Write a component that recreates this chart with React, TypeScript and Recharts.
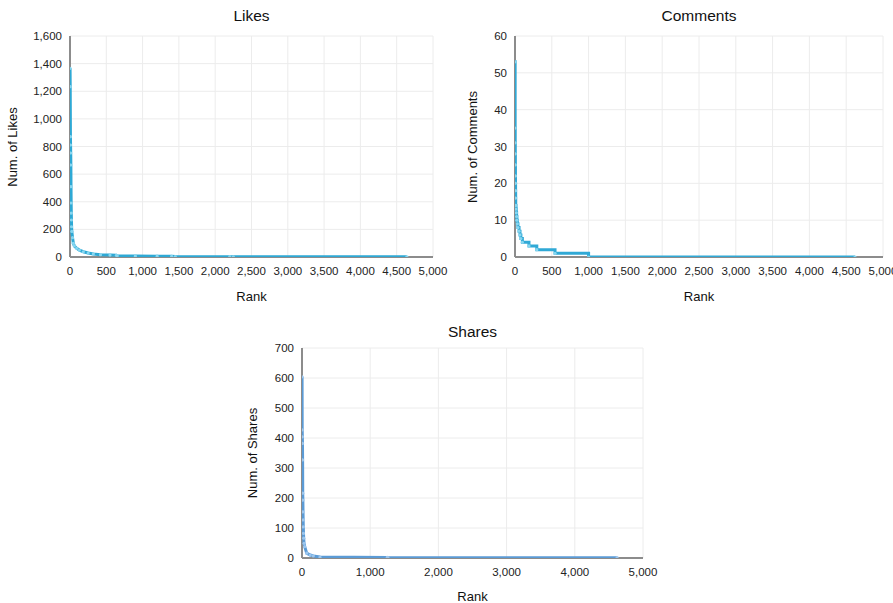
import React from "react";
import { LineChart, Line, XAxis, YAxis, CartesianGrid } from "recharts";

// ---- Data (rank -> count) ----
const likesRank = [1, 3, 6, 8, 10, 12, 14, 16, 18, 20, 22, 25, 35, 46, 60, 92, 130, 184, 250, 322, 420, 551, 640, 650, 900, 1200, 1400, 1450, 2200, 2250, 4640];
const likesValue = [1366, 1233, 871, 811, 753, 666, 509, 391, 318, 268, 219, 185, 140, 99, 80, 63, 50, 38, 29, 22, 17, 14, 12, 9, 8, 6, 5, 3, 2, 1, 1];

const commentsRank = [1, 2, 3, 4, 5, 6, 7, 8, 9, 10, 14, 18, 22, 26, 32, 40, 55, 68, 80, 100, 190, 296, 544, 1000, 4620];
const commentsValue = [53, 35, 31, 28, 25, 22, 20, 18, 16, 14, 13, 12, 11, 10, 9, 8, 7, 6, 5, 4, 3, 2, 1, 0, 0];

const sharesRank = [1, 3, 5, 7, 9, 11, 13, 15, 17, 19, 22, 25, 30, 40, 69, 120, 166, 264, 1250, 1260, 4620];
const sharesValue = [604, 427, 404, 382, 327, 216, 193, 154, 127, 104, 82, 66, 49, 38, 16, 10, 7, 3, 2, 1, 1];

const rankTicksFine = [0, 500, 1000, 1500, 2000, 2500, 3000, 3500, 4000, 4500, 5000];
const rankTicksCoarse = [0, 1000, 2000, 3000, 4000, 5000];
const likesTicks = [0, 200, 400, 600, 800, 1000, 1200, 1400, 1600];
const commentsTicks = [0, 10, 20, 30, 40, 50, 60];
const sharesTicks = [0, 100, 200, 300, 400, 500, 600, 700];

const FONT = "'Liberation Sans', Arial, Helvetica, sans-serif";
const fmt = (v: number) => v.toLocaleString("en-US");

type PanelProps = {
  title: string;
  yTitle: string;
  ranks: number[];
  values: number[];
  xTicks: number[];
  yTicks: number[];
  color: string;
  dotColor: string;
  step?: boolean;
  box: { left: number; top: number; w: number; h: number };
  plot: { left: number; top: number; right: number; bottom: number };
  titleY: number;
  yTitleX: number;
  xTitleY: number;
};

const Y_AXIS_W = 50;
const X_AXIS_H = 30;

function Panel(p: PanelProps) {
  const data = p.ranks.map((r, i) => ({ rank: r, value: p.values[i] }));
  const margin = {
    left: p.plot.left - p.box.left - Y_AXIS_W,
    top: p.plot.top - p.box.top,
    right: p.box.left + p.box.w - p.plot.right,
    bottom: p.box.top + p.box.h - p.plot.bottom - X_AXIS_H,
  };
  const cx = (p.plot.left + p.plot.right) / 2;
  const cy = (p.plot.top + p.plot.bottom) / 2;
  const yMax = p.yTicks[p.yTicks.length - 1];
  const xMax = p.xTicks[p.xTicks.length - 1];
  const tickStyle = { fontSize: 11.5, fill: "#222", fontFamily: FONT };
  return (
    <>
      <div
        style={{
          position: "absolute",
          left: p.box.left,
          top: p.box.top,
          width: p.box.w,
          height: p.box.h,
        }}
      >
        <LineChart width={p.box.w} height={p.box.h} data={data} margin={margin}>
          <CartesianGrid stroke="#ececec" strokeWidth={1} horizontalValues={p.yTicks} verticalValues={p.xTicks} />
          <CartesianGrid stroke="#8c8c8c" strokeWidth={2} horizontalValues={[0]} verticalValues={[0]} />
          <XAxis
            type="number"
            dataKey="rank"
            domain={[0, xMax]}
            ticks={p.xTicks}
            interval={0}
            tickFormatter={fmt}
            tick={tickStyle}
            tickLine={false}
            tickMargin={4}
            height={X_AXIS_H}
            axisLine={false}
            allowDataOverflow
          />
          <YAxis
            type="number"
            dataKey="value"
            domain={[0, yMax]}
            ticks={p.yTicks}
            interval={0}
            tickFormatter={fmt}
            tick={tickStyle}
            tickLine={false}
            width={Y_AXIS_W}
            axisLine={false}
            allowDataOverflow
          />
          <Line
            type={p.step ? "stepAfter" : "linear"}
            dataKey="value"
            stroke={p.color}
            strokeWidth={3}
            dot={{ r: 1.6, fill: p.dotColor, stroke: "none" }}
            isAnimationActive={false}
          />
        </LineChart>
      </div>
      <div
        style={{
          position: "absolute",
          left: cx - 150,
          width: 300,
          top: p.titleY - 10,
          height: 20,
          lineHeight: "20px",
          textAlign: "center",
          fontFamily: FONT,
          fontSize: 15.5,
          color: "#111",
        }}
      >
        {p.title}
      </div>
      <div
        style={{
          position: "absolute",
          left: cx - 100,
          width: 200,
          top: p.xTitleY - 9,
          height: 18,
          lineHeight: "18px",
          textAlign: "center",
          fontFamily: FONT,
          fontSize: 13,
          color: "#111",
        }}
      >
        Rank
      </div>
      <div
        style={{
          position: "absolute",
          left: p.yTitleX - 100,
          width: 200,
          top: cy - 9,
          height: 18,
          lineHeight: "18px",
          textAlign: "center",
          fontFamily: FONT,
          fontSize: 13,
          color: "#111",
          transform: "rotate(-90deg)",
        }}
      >
        {p.yTitle}
      </div>
    </>
  );
}

export default function App() {
  return (
    <div style={{ position: "absolute", left: 0, top: 0, width: 893, height: 603, background: "#fff", overflow: "hidden" }}>
      <Panel
        title="Likes"
        yTitle="Num. of Likes"
        ranks={likesRank}
        values={likesValue}
        xTicks={rankTicksFine}
        yTicks={likesTicks}
        color="#2ea9d5"
        dotColor="#86d6f0"
        box={{ left: 0, top: 0, w: 450, h: 300 }}
        plot={{ left: 70, top: 36, right: 433, bottom: 257 }}
        titleY={16}
        yTitleX={13}
        xTitleY={297}
      />
      <Panel
        title="Comments"
        yTitle="Num. of Comments"
        ranks={commentsRank}
        values={commentsValue}
        xTicks={rankTicksFine}
        yTicks={commentsTicks}
        color="#30a9d6"
        dotColor="#86d6f0"
        step
        box={{ left: 440, top: 0, w: 453, h: 300 }}
        plot={{ left: 515, top: 36, right: 883, bottom: 257 }}
        titleY={16}
        yTitleX={473}
        xTitleY={297}
      />
      <Panel
        title="Shares"
        yTitle="Num. of Shares"
        ranks={sharesRank}
        values={sharesValue}
        xTicks={rankTicksCoarse}
        yTicks={sharesTicks}
        color="#5b9bd6"
        dotColor="#9cc6ee"
        box={{ left: 230, top: 300, w: 440, h: 303 }}
        plot={{ left: 302, top: 348, right: 643, bottom: 558 }}
        titleY={332}
        yTitleX={253}
        xTitleY={597}
      />
    </div>
  );
}
